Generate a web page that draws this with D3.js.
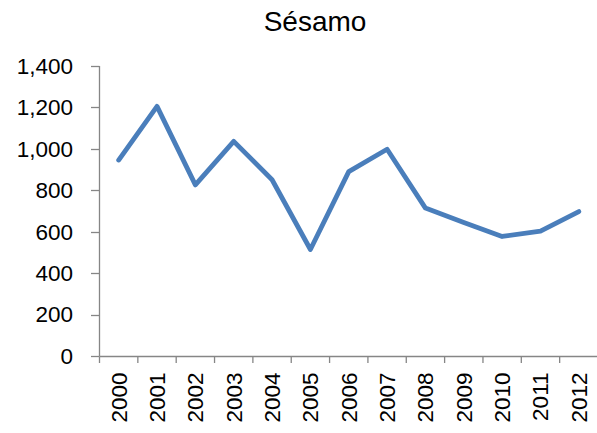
<!DOCTYPE html>
<html><head><meta charset="utf-8">
<script src="https://cdn.jsdelivr.net/npm/d3@7"></script>
<style>body{margin:0;background:#fff}svg{display:block}</style>
</head><body>
<script>
const title = "Sésamo";
const years = ["2000","2001","2002","2003","2004","2005","2006","2007","2008","2009","2010","2011","2012"];
const values = [946, 1205, 826, 1036, 851, 514, 890, 998, 714, 645, 577, 603, 697];
const yTicks = [0, 200, 400, 600, 800, 1000, 1200, 1400];

const W = 597, H = 433;
const svg = d3.select("body").append("svg").attr("width", W).attr("height", H);
const font = "Liberation Sans, Arial, sans-serif";
const axisColor = "#868686";

const x = d3.scaleBand().domain(years).range([99.5, 598]);
const y = d3.scaleLinear().domain([0, 1400]).range([356, 66]);

svg.append("text").attr("x", 315).attr("y", 31).attr("text-anchor", "middle")
  .attr("font-family", font).attr("font-size", 28).attr("fill", "#000").text(title);

// y axis
const ya = svg.append("g");
ya.append("line").attr("x1", 99.5).attr("x2", 99.5).attr("y1", y(1400)).attr("y2", y(0))
  .attr("stroke", axisColor).attr("stroke-width", 1.3);
ya.selectAll("line.t").data(yTicks).enter().append("line")
  .attr("x1", 91).attr("x2", 99.5).attr("y1", d => Math.round(y(d)) + 0.5).attr("y2", d => Math.round(y(d)) + 0.5)
  .attr("stroke", axisColor).attr("stroke-width", 1.3);
ya.selectAll("text").data(yTicks).enter().append("text")
  .attr("x", 73).attr("y", d => y(d)).attr("dy", "0.35em").attr("text-anchor", "end")
  .attr("font-family", font).attr("font-size", 22.5).attr("fill", "#000")
  .text(d => d3.format(",")(d));

// x axis
const xa = svg.append("g");
xa.append("line").attr("x1", 99.5).attr("x2", 597).attr("y1", 356.5).attr("y2", 356.5)
  .attr("stroke", axisColor).attr("stroke-width", 1.3);
const tickX = years.map(d => x(d)).concat([x.range()[1]]);
xa.selectAll("line.t").data(tickX).enter().append("line")
  .attr("x1", d => d).attr("x2", d => d).attr("y1", 356.5).attr("y2", 363)
  .attr("stroke", axisColor).attr("stroke-width", 1.3);
xa.selectAll("text").data(years).enter().append("text")
  .attr("transform", d => `translate(${x(d) + x.bandwidth() / 2},372.5) rotate(-90)`)
  .attr("dy", "0.35em").attr("text-anchor", "end")
  .attr("font-family", font).attr("font-size", 22.5).attr("fill", "#000").text(d => d);

// line
const line = d3.line().x((d, i) => x(years[i]) + x.bandwidth() / 2).y(d => y(d));
svg.append("path").datum(values).attr("d", line).attr("fill", "none")
  .attr("stroke", "#4a7ebb").attr("stroke-width", 4.8)
  .attr("stroke-linejoin", "round").attr("stroke-linecap", "round");
</script>
</body></html>
